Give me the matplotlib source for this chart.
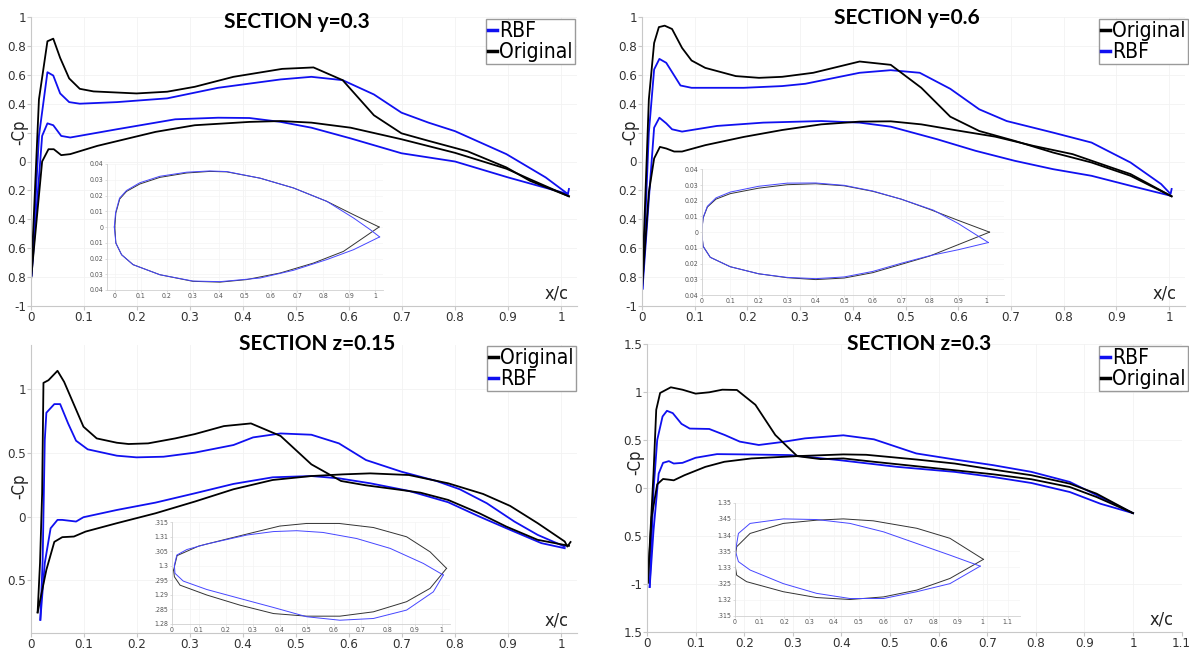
import matplotlib
matplotlib.use("Agg")
import matplotlib.pyplot as plt
from matplotlib.lines import Line2D

plt.rcParams['font.family'] = ['DejaVu Sans']
plt.rcParams['font.stretch'] = 'condensed'

W, H = 1189, 650
BLUE = '#1010f0'
BLACK = '#000000'

# ---------- SECTION y=0.3 ----------
p1_orig_up_x = [0.0, 0.015, 0.031, 0.042, 0.055, 0.072, 0.092, 0.118, 0.199, 0.257, 0.309, 0.382, 0.474, 0.533, 0.588, 0.647, 0.699, 0.75, 0.824, 0.897, 0.941, 1.015]
p1_orig_up_cp = [-0.82, 0.43, 0.832, 0.85, 0.717, 0.575, 0.503, 0.485, 0.471, 0.483, 0.517, 0.586, 0.641, 0.651, 0.563, 0.32, 0.195, 0.143, 0.07, -0.041, -0.133, -0.241]
p1_orig_lo_x = [0.0, 0.021, 0.033, 0.043, 0.057, 0.074, 0.125, 0.235, 0.309, 0.412, 0.471, 0.529, 0.603, 0.699, 0.80, 0.897, 0.941, 1.015]
p1_orig_lo_cp = [-0.82, 0.0, 0.085, 0.085, 0.044, 0.051, 0.108, 0.205, 0.251, 0.274, 0.28, 0.269, 0.234, 0.154, 0.06, -0.05, -0.122, -0.241]
p1_rbf_up_x = [0.001, 0.015, 0.031, 0.042, 0.055, 0.072, 0.092, 0.162, 0.257, 0.353, 0.471, 0.529, 0.588, 0.647, 0.699, 0.75, 0.80, 0.897, 0.971, 1.013, 1.015]
p1_rbf_up_cp = [-0.79, 0.177, 0.618, 0.595, 0.471, 0.411, 0.4, 0.411, 0.437, 0.51, 0.568, 0.586, 0.563, 0.464, 0.338, 0.269, 0.21, 0.051, -0.11, -0.225, -0.19]
p1_rbf_lo_x = [0.001, 0.021, 0.031, 0.042, 0.057, 0.074, 0.162, 0.272, 0.353, 0.412, 0.471, 0.529, 0.603, 0.699, 0.80, 0.90, 1.013]
p1_rbf_lo_cp = [-0.79, 0.177, 0.264, 0.251, 0.177, 0.166, 0.223, 0.292, 0.303, 0.301, 0.274, 0.234, 0.16, 0.057, 0.0, -0.11, -0.225]

# ---------- SECTION y=0.6 ----------
p2_orig_up_x = [0.0, 0.013, 0.023, 0.032, 0.043, 0.057, 0.076, 0.094, 0.12, 0.178, 0.222, 0.266, 0.325, 0.413, 0.472, 0.53, 0.585, 0.64, 0.707, 0.78, 0.853, 0.927, 1.005]
p2_orig_up_cp = [-0.88, 0.43, 0.82, 0.93, 0.94, 0.917, 0.786, 0.699, 0.648, 0.591, 0.579, 0.586, 0.614, 0.692, 0.669, 0.51, 0.31, 0.211, 0.143, 0.062, -0.007, -0.099, -0.241]
p2_orig_lo_x = [0.0, 0.013, 0.023, 0.034, 0.046, 0.061, 0.076, 0.12, 0.193, 0.266, 0.34, 0.413, 0.472, 0.53, 0.596, 0.67, 0.743, 0.817, 0.89, 0.927, 1.005]
p2_orig_lo_cp = [-0.88, -0.214, 0.021, 0.101, 0.09, 0.069, 0.069, 0.113, 0.17, 0.218, 0.257, 0.276, 0.278, 0.257, 0.216, 0.172, 0.108, 0.051, -0.041, -0.087, -0.241]
p2_rbf_up_x = [0.001, 0.013, 0.023, 0.033, 0.046, 0.073, 0.094, 0.193, 0.266, 0.31, 0.413, 0.472, 0.527, 0.585, 0.64, 0.692, 0.78, 0.853, 0.927, 0.985, 1.003, 1.005]
p2_rbf_up_cp = [-0.88, 0.2, 0.637, 0.71, 0.683, 0.526, 0.51, 0.51, 0.522, 0.538, 0.614, 0.632, 0.614, 0.503, 0.361, 0.28, 0.2, 0.131, -0.007, -0.156, -0.225, -0.19]
p2_rbf_lo_x = [0.001, 0.013, 0.023, 0.033, 0.046, 0.057, 0.076, 0.142, 0.23, 0.34, 0.413, 0.472, 0.56, 0.633, 0.707, 0.78, 0.853, 0.927, 1.003]
p2_rbf_lo_cp = [-0.88, -0.26, 0.234, 0.303, 0.264, 0.223, 0.207, 0.246, 0.269, 0.28, 0.269, 0.241, 0.154, 0.074, 0.005, -0.053, -0.099, -0.168, -0.237]

# ---------- SECTION z=0.15 ----------
p3_orig_up_x = [0.0125, 0.017, 0.021, 0.0235, 0.033, 0.05, 0.0625, 0.099, 0.124, 0.162, 0.184, 0.221, 0.272, 0.309, 0.364, 0.415, 0.471, 0.529, 0.585, 0.632, 0.699, 0.735, 0.787, 0.846, 0.897, 0.956, 1.015]
p3_orig_up_cp = [-0.754, -0.366, 0.183, 1.052, 1.073, 1.147, 1.06, 0.707, 0.615, 0.581, 0.571, 0.576, 0.615, 0.649, 0.712, 0.733, 0.634, 0.411, 0.28, 0.246, 0.209, 0.188, 0.131, 0.026, -0.079, -0.183, -0.23]
p3_orig_lo_x = [0.0125, 0.029, 0.044, 0.059, 0.081, 0.103, 0.162, 0.235, 0.309, 0.382, 0.456, 0.529, 0.588, 0.64, 0.713, 0.787, 0.853, 0.904, 0.956, 1.007, 1.012, 1.018]
p3_orig_lo_cp = [-0.754, -0.419, -0.199, -0.162, -0.157, -0.118, -0.052, 0.026, 0.118, 0.215, 0.288, 0.319, 0.332, 0.34, 0.327, 0.262, 0.178, 0.084, -0.052, -0.196, -0.236, -0.2]
p3_rbf_up_x = [0.0176, 0.022, 0.026, 0.029, 0.044, 0.055, 0.07, 0.085, 0.107, 0.162, 0.199, 0.25, 0.309, 0.382, 0.419, 0.471, 0.529, 0.581, 0.632, 0.699, 0.765, 0.809, 0.86, 0.912, 0.956, 1.007]
p3_rbf_up_cp = [-0.812, -0.34, 0.602, 0.817, 0.885, 0.885, 0.733, 0.597, 0.529, 0.479, 0.466, 0.471, 0.503, 0.563, 0.623, 0.654, 0.644, 0.576, 0.445, 0.353, 0.28, 0.215, 0.105, -0.039, -0.144, -0.236]
p3_rbf_lo_x = [0.0176, 0.026, 0.037, 0.05, 0.059, 0.085, 0.099, 0.162, 0.235, 0.309, 0.382, 0.456, 0.529, 0.581, 0.64, 0.713, 0.787, 0.846, 0.897, 0.963, 1.007]
p3_rbf_lo_cp = [-0.812, -0.366, -0.092, -0.026, -0.026, -0.039, -0.005, 0.052, 0.11, 0.183, 0.257, 0.309, 0.319, 0.301, 0.262, 0.202, 0.113, 0.0, -0.092, -0.209, -0.249]

# ---------- SECTION z=0.3 ----------
p4_orig_up_x = [0.0016, 0.0134, 0.019, 0.027, 0.049, 0.073, 0.1, 0.128, 0.155, 0.185, 0.223, 0.264, 0.309, 0.357, 0.404, 0.467, 0.554, 0.633, 0.712, 0.791, 0.87, 0.925, 1.0]
p4_orig_up_cp = [-0.986, 0.15, 0.815, 0.99, 1.049, 1.024, 0.983, 0.997, 1.024, 1.021, 0.867, 0.552, 0.332, 0.301, 0.308, 0.273, 0.227, 0.185, 0.143, 0.091, 0.01, -0.094, -0.262]
p4_orig_lo_x = [0.0016, 0.0095, 0.021, 0.033, 0.045, 0.055, 0.077, 0.12, 0.159, 0.215, 0.309, 0.404, 0.451, 0.554, 0.633, 0.712, 0.791, 0.87, 0.925, 1.0]
p4_orig_lo_cp = [-0.986, -0.304, 0.038, 0.094, 0.087, 0.08, 0.133, 0.22, 0.273, 0.308, 0.332, 0.35, 0.346, 0.297, 0.255, 0.192, 0.133, 0.045, -0.059, -0.262]
p4_rbf_up_x = [0.0055, 0.0134, 0.021, 0.032, 0.041, 0.053, 0.071, 0.088, 0.128, 0.16, 0.191, 0.23, 0.278, 0.325, 0.404, 0.467, 0.554, 0.633, 0.712, 0.791, 0.87, 0.933, 1.0]
p4_rbf_up_cp = [-1.031, -0.024, 0.5, 0.745, 0.804, 0.78, 0.668, 0.619, 0.615, 0.552, 0.483, 0.448, 0.479, 0.517, 0.549, 0.507, 0.36, 0.297, 0.238, 0.168, 0.063, -0.094, -0.262]
p4_rbf_lo_x = [0.0055, 0.0134, 0.024, 0.033, 0.045, 0.055, 0.073, 0.1, 0.144, 0.199, 0.294, 0.396, 0.515, 0.633, 0.712, 0.791, 0.87, 0.933, 1.0]
p4_rbf_lo_cp = [-1.031, -0.444, 0.15, 0.262, 0.28, 0.255, 0.262, 0.315, 0.353, 0.35, 0.343, 0.29, 0.22, 0.168, 0.115, 0.052, -0.042, -0.164, -0.262]

# ---------- inset section shapes ----------
s1_orig_up_x = [0.0, 0.004, 0.019, 0.045, 0.096, 0.173, 0.276, 0.365, 0.43, 0.558, 0.686, 0.814, 0.917, 1.015]
s1_orig_up_y = [0.0, 0.0089, 0.0178, 0.0226, 0.0273, 0.0315, 0.0343, 0.0353, 0.035, 0.031, 0.0248, 0.0163, 0.0078, 0.0]
s1_orig_lo_x = [0.0, 0.004, 0.026, 0.07, 0.173, 0.30, 0.404, 0.506, 0.635, 0.763, 0.878, 1.015]
s1_orig_lo_y = [0.0, -0.0102, -0.0176, -0.0239, -0.0303, -0.0345, -0.035, -0.0334, -0.0292, -0.0229, -0.0155, 0.0]
s1_rbf_up_x = [-0.002, 0.003, 0.018, 0.045, 0.096, 0.173, 0.276, 0.365, 0.43, 0.558, 0.686, 0.814, 0.917, 0.981, 1.017]
s1_rbf_up_y = [0.0, 0.0092, 0.0183, 0.0232, 0.0281, 0.0322, 0.0348, 0.0356, 0.0352, 0.031, 0.0248, 0.0163, 0.0057, -0.0017, -0.0063]
s1_rbf_lo_x = [-0.002, 0.004, 0.026, 0.07, 0.173, 0.30, 0.404, 0.558, 0.686, 0.814, 0.917, 1.017]
s1_rbf_lo_y = [0.0, -0.0102, -0.0176, -0.0239, -0.0303, -0.0343, -0.0347, -0.0324, -0.0275, -0.0207, -0.0144, -0.0063]

s2_orig_up_x = [0.0, 0.005, 0.02, 0.05, 0.1, 0.2, 0.3, 0.4, 0.5, 0.6, 0.7, 0.8, 0.9, 1.01]
s2_orig_up_y = [0.0, 0.009, 0.016, 0.021, 0.0245, 0.028, 0.0302, 0.0308, 0.0295, 0.026, 0.021, 0.0145, 0.0075, 0.0]
s2_orig_lo_x = [0.0, 0.005, 0.03, 0.1, 0.2, 0.3, 0.4, 0.5, 0.6, 0.7, 0.8, 1.01]
s2_orig_lo_y = [0.0, -0.009, -0.016, -0.022, -0.0265, -0.029, -0.0302, -0.0292, -0.0258, -0.0205, -0.0152, 0.0]
s2_rbf_up_x = [0.0, 0.005, 0.02, 0.05, 0.1, 0.2, 0.3, 0.4, 0.5, 0.6, 0.7, 0.813, 0.9, 1.006]
s2_rbf_up_y = [0.0, 0.0092, 0.0165, 0.0218, 0.0255, 0.0292, 0.0312, 0.0313, 0.0298, 0.0262, 0.021, 0.014, 0.0055, -0.0066]
s2_rbf_lo_x = [0.0, 0.005, 0.03, 0.1, 0.2, 0.3, 0.4, 0.5, 0.6, 0.7, 0.8, 0.9, 1.006]
s2_rbf_lo_y = [0.0, -0.009, -0.016, -0.022, -0.0265, -0.0288, -0.0296, -0.0285, -0.025, -0.0198, -0.015, -0.0112, -0.0066]

s3_orig_up_x = [0.007, 0.02, 0.1, 0.19, 0.29, 0.40, 0.5, 0.62, 0.747, 0.87, 0.957, 1.018]
s3_orig_up_y = [1.2985, 1.3035, 1.3068, 1.3089, 1.3112, 1.3137, 1.3146, 1.3146, 1.3132, 1.31, 1.3048, 1.2991]
s3_orig_lo_x = [0.007, 0.01, 0.031, 0.13, 0.253, 0.377, 0.5, 0.623, 0.747, 0.87, 0.957, 1.018]
s3_orig_lo_y = [1.2985, 1.2962, 1.2933, 1.2899, 1.2864, 1.2835, 1.2826, 1.2826, 1.2841, 1.2876, 1.2922, 1.2991]
s3_rbf_up_x = [0.01, 0.019, 0.056, 0.13, 0.278, 0.377, 0.463, 0.56, 0.685, 0.809, 0.932, 1.006]
s3_rbf_up_y = [1.3002, 1.3037, 1.3056, 1.3075, 1.3106, 1.3118, 1.3121, 1.3115, 1.3094, 1.306, 1.3008, 1.2968]
s3_rbf_lo_x = [0.01, 0.012, 0.043, 0.13, 0.253, 0.377, 0.5, 0.623, 0.747, 0.87, 0.969, 1.006]
s3_rbf_lo_y = [1.3002, 1.2974, 1.2947, 1.2918, 1.2887, 1.2856, 1.2824, 1.2812, 1.2818, 1.2847, 1.291, 1.2968]

s4_orig_up_x = [-0.001, 0.008, 0.062, 0.196, 0.33, 0.438, 0.559, 0.734, 0.868, 1.003]
s4_orig_up_y = [1.3318, 1.3364, 1.3405, 1.3436, 1.3446, 1.345, 1.3444, 1.3421, 1.339, 1.3325]
s4_orig_lo_x = [-0.001, 0.008, 0.048, 0.196, 0.33, 0.465, 0.6, 0.734, 0.868, 1.003]
s4_orig_lo_y = [1.3318, 1.3276, 1.3256, 1.3225, 1.3207, 1.3201, 1.3209, 1.323, 1.3266, 1.3325]
s4_rbf_up_x = [0.003, 0.015, 0.062, 0.196, 0.33, 0.465, 0.6, 0.734, 0.868, 0.99]
s4_rbf_up_y = [1.335, 1.3405, 1.3436, 1.345, 1.3448, 1.3436, 1.341, 1.3374, 1.3338, 1.3304]
s4_rbf_lo_x = [0.003, 0.015, 0.062, 0.196, 0.33, 0.465, 0.6, 0.734, 0.868, 0.99]
s4_rbf_lo_y = [1.335, 1.3318, 1.3292, 1.325, 1.322, 1.3204, 1.3204, 1.3225, 1.325, 1.3304]

# tick labels as printed on the original picture (minus signs clipped)
cp_ticks_a = [-1, -0.8, -0.6, -0.4, -0.2, 0, 0.2, 0.4, 0.6, 0.8, 1]
cp_labels_a = ['-1', '0.8', '0.6', '0.4', '0.2', '0', '', '0.4', '0.6', '0.8', '1']
cp_ticks_c = [-0.5, 0, 0.5, 1]
cp_labels_c = ['0.5', '0', '0.5', '1']
cp_ticks_d = [-1.5, -1, -0.5, 0, 0.5, 1, 1.5]
cp_labels_d = ['1.5', '-1', '0.5', '0', '0.5', '1', '1.5']
xc_ticks = [0, 0.1, 0.2, 0.3, 0.4, 0.5, 0.6, 0.7, 0.8, 0.9, 1]
xc_ticks_d = xc_ticks + [1.1]

sec_ticks_ab = [-0.04, -0.03, -0.02, -0.01, 0, 0.01, 0.02, 0.03, 0.04]
sec_labels_ab = ['0.04', '0.03', '0.02', '0.01', '0', '0.01', '0.02', '0.03', '0.04']
sec_ticks_c = [1.28, 1.285, 1.29, 1.295, 1.3, 1.305, 1.31, 1.315]
sec_labels_c = ['1.28', '.285', '1.29', '.295', '1.3', '.305', '1.31', '.315']
sec_ticks_d = [1.315, 1.32, 1.325, 1.33, 1.335, 1.34, 1.345, 1.35]
sec_labels_d = ['.315', '1.32', '.325', '1.33', '.335', '1.34', '.345', '1.35']


def rect(x0, x1, y0, y1):
    # pixel box -> figure fraction
    return [x0 / W, 1 - y1 / H, (x1 - x0) / W, (y1 - y0) / H]


def lab(v):
    return f'{v:g}'


fig = plt.figure(figsize=(W / 100, H / 100), dpi=100)


def main_axes(box, xlim, ylim, xt, yt, ylabs, cp_y):
    ax = fig.add_axes(box)
    ax.set_xlim(*xlim)
    ax.set_ylim(*ylim)
    ax.set_xticks(xt)
    ax.set_xticklabels([lab(v) for v in xt])
    ax.set_yticks(yt)
    ax.set_yticklabels(ylabs)
    for s in ['top', 'right']:
        ax.spines[s].set_visible(False)
    for s in ['left', 'bottom']:
        ax.spines[s].set_color('#c8c8c8')
        ax.spines[s].set_linewidth(0.8)
    ax.tick_params(colors='#c8c8c8', labelcolor='#333333', labelsize=9.5, length=3, width=0.8, pad=0.5)
    ax.grid(True, color='#f2f2f2', lw=0.6)
    ax.set_axisbelow(True)
    ax.text(-0.022, cp_y, '-Cp', rotation=90, fontsize=12, color='#222222',
            transform=ax.get_yaxis_transform(), ha='center', va='center')
    ax.text(0.985, 0.012, 'x/c', fontsize=13, color='#222222', transform=ax.transAxes,
            ha='right', va='bottom')
    return ax


def inset_axes(box, xlim, ylim, xt, yt, ylabs):
    ax = fig.add_axes(box)
    ax.set_xlim(*xlim)
    ax.set_ylim(*ylim)
    ax.set_xticks(xt)
    ax.set_xticklabels([lab(v) for v in xt])
    ax.set_yticks(yt)
    ax.set_yticklabels(ylabs)
    ax.patch.set_alpha(0)
    for s in ['top', 'right']:
        ax.spines[s].set_visible(False)
    for s in ['left', 'bottom']:
        ax.spines[s].set_color('#d0d0d0')
        ax.spines[s].set_linewidth(0.6)
    ax.tick_params(colors='#d0d0d0', labelcolor='#555555', labelsize=5, length=1.5, width=0.5, pad=1)
    ax.grid(True, color='#f4f4f4', lw=0.5)
    return ax


def legend(ax, order, corner):
    handles = []
    for name in order:
        c = BLUE if name == 'RBF' else BLACK
        handles.append(Line2D([], [], color=c, lw=2.5, label=name))
    ax.legend(handles=handles, loc='upper right', bbox_to_anchor=(corner[0] / W, 1 - corner[1] / H),
              bbox_transform=fig.transFigure, fontsize=15, frameon=True, fancybox=False,
              edgecolor='#9a9a9a', framealpha=1, borderpad=0.1, labelspacing=0.05,
              handlelength=0.45, handletextpad=0.1, borderaxespad=0)


panels = [
    dict(box=rect(31, 31 + 1.03 * 530, 17, 306), xlim=(0, 1.03), ylim=(-1, 1), xt=xc_ticks,
         yt=cp_ticks_a, yl=cp_labels_a, cpy=0.2, title='SECTION y=0.3', tpos=(297, 22),
         orig=(p1_orig_up_x, p1_orig_up_cp, p1_orig_lo_x, p1_orig_lo_cp),
         rbf=(p1_rbf_up_x, p1_rbf_up_cp, p1_rbf_lo_x, p1_rbf_lo_cp),
         leg=['RBF', 'Original'], lpos=(575, 19)),
    dict(box=rect(642, 642 + 1.03 * 527, 17, 306), xlim=(0, 1.03), ylim=(-1, 1), xt=xc_ticks,
         yt=cp_ticks_a, yl=cp_labels_a, cpy=0.2, title='SECTION y=0.6', tpos=(907, 18),
         orig=(p2_orig_up_x, p2_orig_up_cp, p2_orig_lo_x, p2_orig_lo_cp),
         rbf=(p2_rbf_up_x, p2_rbf_up_cp, p2_rbf_lo_x, p2_rbf_lo_cp),
         leg=['Original', 'RBF'], lpos=(1188, 19)),
    dict(box=rect(31, 31 + 1.03 * 530, 345, 633), xlim=(0, 1.03), ylim=(-0.916, 1.35), xt=xc_ticks,
         yt=cp_ticks_c, yl=cp_labels_c, cpy=0.24, title='SECTION z=0.15', tpos=(317, 344),
         orig=(p3_orig_up_x, p3_orig_up_cp, p3_orig_lo_x, p3_orig_lo_cp),
         rbf=(p3_rbf_up_x, p3_rbf_up_cp, p3_rbf_lo_x, p3_rbf_lo_cp),
         leg=['Original', 'RBF'], lpos=(576, 346)),
    dict(box=rect(647, 647 + 1.1 * 486, 344, 632), xlim=(0, 1.1), ylim=(-1.5, 1.5), xt=xc_ticks_d,
         yt=cp_ticks_d, yl=cp_labels_d, cpy=0.27, title='SECTION z=0.3', tpos=(919, 344),
         orig=(p4_orig_up_x, p4_orig_up_cp, p4_orig_lo_x, p4_orig_lo_cp),
         rbf=(p4_rbf_up_x, p4_rbf_up_cp, p4_rbf_lo_x, p4_rbf_lo_cp),
         leg=['RBF', 'Original'], lpos=(1188, 346)),
]

for p in panels:
    ax = main_axes(p['box'], p['xlim'], p['ylim'], p['xt'], p['yt'], p['yl'], p['cpy'])
    ux, uy, lx, ly = p['rbf']
    ax.plot(ux, uy, color=BLUE, lw=1.3)
    ax.plot(lx, ly, color=BLUE, lw=1.3)
    ux, uy, lx, ly = p['orig']
    ax.plot(ux, uy, color=BLACK, lw=1.3)
    ax.plot(lx, ly, color=BLACK, lw=1.3)
    fig.text(p['tpos'][0] / W, 1 - p['tpos'][1] / H, p['title'], fontsize=15, fontweight='bold',
             family=['Lato', 'DejaVu Sans'], stretch='normal', ha='center', va='center')
    legend(ax, p['leg'], p['lpos'])

insets = [
    dict(box=rect(107, 383, 164, 290), xlim=(-0.03, 1.03), ylim=(-0.04, 0.04), xt=xc_ticks,
         yt=sec_ticks_ab, yl=sec_labels_ab,
         orig=(s1_orig_up_x, s1_orig_up_y, s1_orig_lo_x, s1_orig_lo_y),
         rbf=(s1_rbf_up_x, s1_rbf_up_y, s1_rbf_lo_x, s1_rbf_lo_y)),
    dict(box=rect(701.7, 1003.8, 169.3, 295), xlim=(0, 1.06), ylim=(-0.04, 0.04), xt=xc_ticks,
         yt=sec_ticks_ab, yl=sec_labels_ab,
         orig=(s2_orig_up_x, s2_orig_up_y, s2_orig_lo_x, s2_orig_lo_y),
         rbf=(s2_rbf_up_x, s2_rbf_up_y, s2_rbf_lo_x, s2_rbf_lo_y)),
    dict(box=rect(171.7, 449.8, 522.3, 623.7), xlim=(0, 1.03), ylim=(1.28, 1.315), xt=xc_ticks,
         yt=sec_ticks_c, yl=sec_labels_c,
         orig=(s3_orig_up_x, s3_orig_up_y, s3_orig_lo_x, s3_orig_lo_y),
         rbf=(s3_rbf_up_x, s3_rbf_up_y, s3_rbf_lo_x, s3_rbf_lo_y)),
    dict(box=rect(734.7, 1019.9, 502.7, 616), xlim=(0, 1.15), ylim=(1.315, 1.35), xt=xc_ticks_d,
         yt=sec_ticks_d, yl=sec_labels_d,
         orig=(s4_orig_up_x, s4_orig_up_y, s4_orig_lo_x, s4_orig_lo_y),
         rbf=(s4_rbf_up_x, s4_rbf_up_y, s4_rbf_lo_x, s4_rbf_lo_y)),
]

for s in insets:
    ax = inset_axes(s['box'], s['xlim'], s['ylim'], s['xt'], s['yt'], s['yl'])
    ux, uy, lx, ly = s['orig']
    ax.plot(ux, uy, color='#333333', lw=0.7)
    ax.plot(lx, ly, color='#333333', lw=0.7)
    ux, uy, lx, ly = s['rbf']
    ax.plot(ux, uy, color='#4646ff', lw=0.7)
    ax.plot(lx, ly, color='#4646ff', lw=0.7)

fig.savefig('out.png', dpi=100)
